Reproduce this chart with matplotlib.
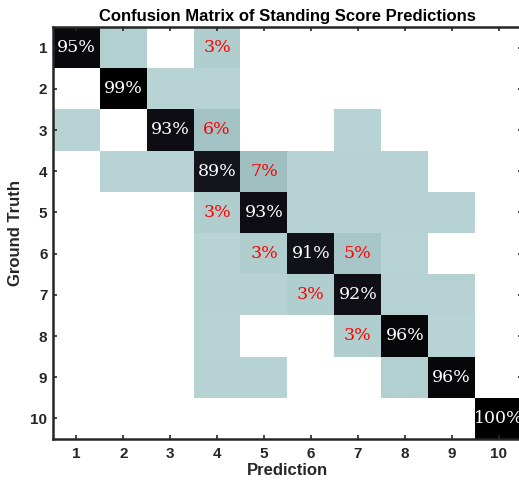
import matplotlib
matplotlib.use("Agg")
import matplotlib.pyplot as plt
import numpy as np
from matplotlib.colors import LinearSegmentedColormap

labels = [str(i) for i in range(1, 11)]

# rows = ground truth 1..10, columns = prediction 1..10 (percent)
row1 = [95, 2, 0, 3, 0, 0, 0, 0, 0, 0]
row2 = [0, 99, 0.5, 0.5, 0, 0, 0, 0, 0, 0]
row3 = [0.5, 0, 93, 6, 0, 0, 0.5, 0, 0, 0]
row4 = [0, 0.5, 0.5, 89, 7, 1, 1, 1, 0, 0]
row5 = [0, 0, 0, 3, 93, 1, 1, 1, 1, 0]
row6 = [0, 0, 0, 0.5, 3, 91, 5, 0.5, 0, 0]
row7 = [0, 0, 0, 1, 1, 3, 92, 1.5, 1.5, 0]
row8 = [0, 0, 0, 0.5, 0, 0, 3, 96, 0.5, 0]
row9 = [0, 0, 0, 1, 1, 0, 0, 2, 96, 0]
row10 = [0, 0, 0, 0, 0, 0, 0, 0, 0, 100]

cm = np.array([row1, row2, row3, row4, row5, row6, row7, row8, row9, row10])

# white -> pale teal -> near black, most of the change squeezed into the top
cmap = LinearSegmentedColormap.from_list(
    "teal",
    [(0.0, "#ffffff"), (0.001, "#b9d4d4"), (0.03, "#b1cece"),
     (0.07, "#9fbfc0"), (0.89, "#15151e"), (1.0, "#000000")],
    N=2048,
)

plt.rcParams["font.family"] = ["Liberation Sans", "DejaVu Sans"]
dark = "#262626"

fig = plt.figure(figsize=(5.19, 4.83), dpi=100)
ax = fig.add_axes([53 / 519, 1 - 439 / 483, 469 / 519, 412 / 483])

ax.imshow(cm, cmap=cmap, vmin=0, vmax=100, extent=(0.5, 10.5, 10.5, 0.5),
          aspect="auto", interpolation="nearest")

for i in range(10):
    for j in range(10):
        v = cm[i, j]
        if i == j:
            ax.text(j + 1, i + 1, f"{v:.0f}%", ha="center", va="center",
                    color="white", fontsize=12.5, family="DejaVu Serif")
        elif v >= 3:
            ax.text(j + 1, i + 1, f"{v:.0f}%", ha="center", va="center",
                    color="red", fontsize=12.5, family="DejaVu Serif")

ax.set_xlim(0.5, 10.5)
ax.set_ylim(10.5, 0.5)
ax.set_xticks(range(1, 11))
ax.set_yticks(range(1, 11))
ax.set_xticklabels(labels, fontweight="bold")
ax.set_yticklabels(labels, fontweight="bold")
ax.tick_params(direction="in", length=3, width=1.2, color=dark,
               labelcolor=dark, labelsize=11, top=True, right=True)
ax.tick_params(axis="x", pad=6)
ax.tick_params(axis="y", pad=4)
for s in ax.spines.values():
    s.set_linewidth(1.8)
    s.set_color(dark)

ax.set_title("Confusion Matrix of Standing Score Predictions",
             fontsize=12, fontweight="bold", color="black", pad=4)
ax.set_xlabel("Prediction", fontsize=12, fontweight="bold", color=dark,
              labelpad=1)
ax.set_ylabel("Ground Truth", fontsize=12, fontweight="bold", color=dark,
              labelpad=5)

fig.savefig("out.png", dpi=100)
